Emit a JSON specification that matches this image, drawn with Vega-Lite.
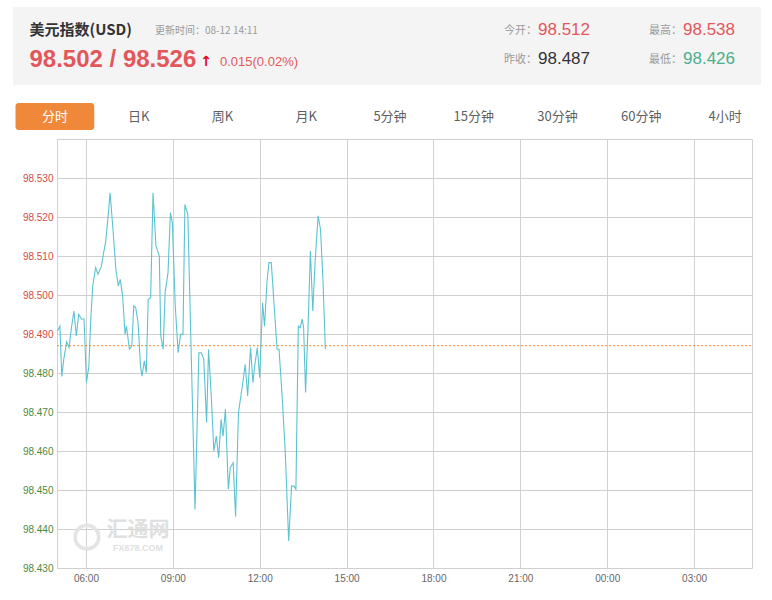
{
  "$schema": "https://vega.github.io/schema/vega-lite/v6.json",
  "padding": {"left": 13, "top": 7, "right": 0, "bottom": 0},
  "spacing": 0,
  "background": "#ffffff",
  "config": {"view": {"stroke": null}, "font": "Liberation Sans"},
  "vconcat": [
    {
      "width": 748,
      "height": 78,
      "view": {"fill": "#f4f4f4", "stroke": null},
      "data": {"values": [
        {"part": "name", "col": "main", "row": "r1", "text": "美元指数(USD)"},
        {"part": "time", "col": "main", "row": "r1", "text": "更新时间：08-12 14:11"},
        {"part": "price", "col": "main", "row": "r2", "text": "98.502 / 98.526", "tone": "up"},
        {"part": "arrow", "col": "main", "row": "r2", "text": "↑", "tone": "up"},
        {"part": "change", "col": "main", "row": "r2", "text": "0.015(0.02%)", "tone": "up"},
        {"part": "label", "col": "s1", "row": "r1", "text": "今开："},
        {"part": "value", "col": "s1", "row": "r1", "text": "98.512", "tone": "up"},
        {"part": "label", "col": "s1", "row": "r2", "text": "昨收："},
        {"part": "value", "col": "s1", "row": "r2", "text": "98.487", "tone": "flat"},
        {"part": "label", "col": "s2", "row": "r1", "text": "最高："},
        {"part": "value", "col": "s2", "row": "r1", "text": "98.538", "tone": "up"},
        {"part": "label", "col": "s2", "row": "r2", "text": "最低："},
        {"part": "value", "col": "s2", "row": "r2", "text": "98.426", "tone": "down"}
      ]},
      "encoding": {
        "x": {"field": "col", "type": "nominal", "scale": {"domain": ["main", "b1", "b2", "s1", "s2"], "range": [16.5, 741.5], "paddingInner": 0, "paddingOuter": 0}, "axis": null},
        "y": {"field": "row", "type": "nominal", "scale": {"domain": ["r1", "r2"], "range": [8, 67], "paddingInner": 0, "paddingOuter": 0}, "axis": null},
        "text": {"field": "text"}
      },
      "layer": [
        {
          "transform": [{"filter": "datum.part == 'name'"}],
          "mark": {"type": "text", "align": "left", "baseline": "middle", "dx": -72.5, "fontSize": 15, "fontWeight": "bold", "font": "Noto Sans CJK SC", "color": "#333333"}
        },
        {
          "transform": [{"filter": "datum.part == 'time'"}],
          "mark": {"type": "text", "align": "left", "baseline": "middle", "dx": 53, "dy": 1, "fontSize": 10, "font": "Noto Sans CJK SC", "color": "#9a9a9a"}
        },
        {
          "transform": [{"filter": "datum.part == 'price'"}],
          "mark": {"type": "text", "align": "left", "baseline": "middle", "dx": -72.5, "dy": 1, "fontSize": 24, "fontWeight": "bold", "font": "Liberation Sans", "color": "#e2575c"}
        },
        {
          "transform": [{"filter": "datum.part == 'arrow'"}],
          "mark": {"type": "text", "align": "center", "baseline": "middle", "dx": 104, "dy": 3, "fontSize": 14, "fontWeight": "bold", "font": "DejaVu Sans", "color": "#e60012"}
        },
        {
          "transform": [{"filter": "datum.part == 'change'"}],
          "mark": {"type": "text", "align": "left", "baseline": "middle", "dx": 118, "dy": 3, "fontSize": 13, "font": "Liberation Sans", "color": "#e2575c"}
        },
        {
          "transform": [{"filter": "datum.part == 'label'"}],
          "mark": {"type": "text", "align": "right", "baseline": "middle", "dy": 1, "fontSize": 11, "font": "Noto Sans CJK SC", "color": "#9a9a9a"}
        },
        {
          "transform": [{"filter": "datum.part == 'value'"}],
          "mark": {"type": "text", "align": "left", "baseline": "middle", "dx": 1, "fontSize": 17, "font": "Liberation Sans"},
          "encoding": {
            "color": {"field": "tone", "type": "nominal", "scale": {"domain": ["up", "flat", "down"], "range": ["#e2575c", "#333333", "#4cae8b"]}, "legend": null}
          }
        }
      ]
    },
    {
      "width": 754,
      "height": 49,
      "view": {"stroke": null},
      "data": {"values": [
        {"tab": "分时", "group": "period", "active": true},
        {"tab": "日K", "group": "period", "active": false},
        {"tab": "周K", "group": "period", "active": false},
        {"tab": "月K", "group": "period", "active": false},
        {"tab": "5分钟", "group": "period", "active": false},
        {"tab": "15分钟", "group": "period", "active": false},
        {"tab": "30分钟", "group": "period", "active": false},
        {"tab": "60分钟", "group": "period", "active": false},
        {"tab": "4小时", "group": "period", "active": false}
      ]},
      "encoding": {
        "x": {"field": "tab", "type": "nominal", "scale": {"domain": ["分时", "日K", "周K", "月K", "5分钟", "15分钟", "30分钟", "60分钟", "4小时"], "paddingInner": 0.06, "paddingOuter": 0.03}, "axis": null},
        "y": {"field": "group", "type": "nominal", "scale": {"domain": ["period"], "range": [18, 45], "paddingInner": 0, "paddingOuter": 0}, "axis": null}
      },
      "layer": [
        {
          "transform": [{"filter": "datum.active"}],
          "mark": {"type": "bar", "cornerRadius": 3, "color": "#f0883a"}
        },
        {
          "mark": {"type": "text", "baseline": "middle", "fontSize": 13, "font": "Noto Sans CJK SC"},
          "encoding": {
            "text": {"field": "tab"},
            "color": {"condition": {"test": "datum.active", "value": "#ffffff"}, "value": "#5f5f5f"}
          }
        }
      ]
    },
    {
      "width": 739,
      "height": 429,
      "view": {"stroke": null},
      "layer": [
        {
          "data": {"values": [{"brand": "汇通网", "site": "FX678.COM"}]},
          "mark": {"type": "point", "shape": "circle", "filled": false, "size": 560, "strokeWidth": 3.5, "color": "#e4e4e4", "opacity": 1},
          "encoding": {
            "x": {"datum": {"year": 2019, "month": 8, "date": 12, "hours": 6, "minutes": 2, "utc": true}, "type": "temporal"},
            "y": {"datum": 98.4379, "type": "quantitative"}
          }
        },
        {
          "data": {"values": [{"brand": "汇通网", "site": "FX678.COM"}]},
          "mark": {"type": "text", "fontSize": 21, "fontWeight": "bold", "font": "Noto Sans CJK SC", "color": "#e0e0e0", "baseline": "middle", "align": "center"},
          "encoding": {
            "x": {"datum": {"year": 2019, "month": 8, "date": 12, "hours": 7, "minutes": 48, "utc": true}, "type": "temporal"},
            "y": {"datum": 98.4397, "type": "quantitative"},
            "text": {"field": "brand"}
          }
        },
        {
          "data": {"values": [{"brand": "汇通网", "site": "FX678.COM"}]},
          "mark": {"type": "text", "fontSize": 9, "fontWeight": "bold", "font": "Liberation Sans", "color": "#e0e0e0", "baseline": "middle", "align": "center"},
          "encoding": {
            "x": {"datum": {"year": 2019, "month": 8, "date": 12, "hours": 7, "minutes": 48, "utc": true}, "type": "temporal"},
            "y": {"datum": 98.4351, "type": "quantitative"},
            "text": {"field": "site"}
          }
        },
        {
          "data": {"values": [{"prev_close": 98.487}]},
          "mark": {"type": "rule", "color": "#f0883a", "strokeDash": [2, 2], "strokeWidth": 1},
          "encoding": {
            "y": {"field": "prev_close", "type": "quantitative"},
            "x": {"datum": {"year": 2019, "month": 8, "date": 12, "hours": 5, "utc": true}, "type": "temporal"},
            "x2": {"datum": {"year": 2019, "month": 8, "date": 13, "hours": 5, "utc": true}}
          }
        },
        {
          "data": {"values": [
            {"time": "2019-08-12T05:01:00Z", "price": 98.4908},
            {"time": "2019-08-12T05:06:00Z", "price": 98.4920},
            {"time": "2019-08-12T05:10:00Z", "price": 98.4791},
            {"time": "2019-08-12T05:14:00Z", "price": 98.4835},
            {"time": "2019-08-12T05:20:00Z", "price": 98.4880},
            {"time": "2019-08-12T05:25:00Z", "price": 98.4865},
            {"time": "2019-08-12T05:29:00Z", "price": 98.4908},
            {"time": "2019-08-12T05:35:00Z", "price": 98.4959},
            {"time": "2019-08-12T05:40:00Z", "price": 98.4895},
            {"time": "2019-08-12T05:45:00Z", "price": 98.4950},
            {"time": "2019-08-12T05:51:00Z", "price": 98.4938},
            {"time": "2019-08-12T05:56:00Z", "price": 98.4939},
            {"time": "2019-08-12T06:01:00Z", "price": 98.4775},
            {"time": "2019-08-12T06:06:00Z", "price": 98.4818},
            {"time": "2019-08-12T06:10:00Z", "price": 98.4938},
            {"time": "2019-08-12T06:14:00Z", "price": 98.5023},
            {"time": "2019-08-12T06:20:00Z", "price": 98.5070},
            {"time": "2019-08-12T06:25:00Z", "price": 98.5053},
            {"time": "2019-08-12T06:32:00Z", "price": 98.5074},
            {"time": "2019-08-12T06:36:00Z", "price": 98.5104},
            {"time": "2019-08-12T06:41:00Z", "price": 98.5138},
            {"time": "2019-08-12T06:46:00Z", "price": 98.5203},
            {"time": "2019-08-12T06:50:00Z", "price": 98.5262},
            {"time": "2019-08-12T06:56:00Z", "price": 98.5168},
            {"time": "2019-08-12T07:02:00Z", "price": 98.5066},
            {"time": "2019-08-12T07:07:00Z", "price": 98.5023},
            {"time": "2019-08-12T07:11:00Z", "price": 98.5040},
            {"time": "2019-08-12T07:16:00Z", "price": 98.4997},
            {"time": "2019-08-12T07:21:00Z", "price": 98.4899},
            {"time": "2019-08-12T07:24:00Z", "price": 98.4920},
            {"time": "2019-08-12T07:30:00Z", "price": 98.4861},
            {"time": "2019-08-12T07:35:00Z", "price": 98.4869},
            {"time": "2019-08-12T07:39:00Z", "price": 98.4972},
            {"time": "2019-08-12T07:43:00Z", "price": 98.4968},
            {"time": "2019-08-12T07:48:00Z", "price": 98.4929},
            {"time": "2019-08-12T07:53:00Z", "price": 98.4818},
            {"time": "2019-08-12T07:56:00Z", "price": 98.4792},
            {"time": "2019-08-12T08:01:00Z", "price": 98.4831},
            {"time": "2019-08-12T08:05:00Z", "price": 98.4801},
            {"time": "2019-08-12T08:09:00Z", "price": 98.4989},
            {"time": "2019-08-12T08:14:00Z", "price": 98.4993},
            {"time": "2019-08-12T08:19:00Z", "price": 98.5262},
            {"time": "2019-08-12T08:25:00Z", "price": 98.5126},
            {"time": "2019-08-12T08:32:00Z", "price": 98.5100},
            {"time": "2019-08-12T08:35:00Z", "price": 98.4895},
            {"time": "2019-08-12T08:40:00Z", "price": 98.4861},
            {"time": "2019-08-12T08:44:00Z", "price": 98.5006},
            {"time": "2019-08-12T08:50:00Z", "price": 98.5057},
            {"time": "2019-08-12T08:55:00Z", "price": 98.5211},
            {"time": "2019-08-12T08:59:00Z", "price": 98.5185},
            {"time": "2019-08-12T09:05:00Z", "price": 98.4972},
            {"time": "2019-08-12T09:11:00Z", "price": 98.4852},
            {"time": "2019-08-12T09:16:00Z", "price": 98.4899},
            {"time": "2019-08-12T09:21:00Z", "price": 98.4899},
            {"time": "2019-08-12T09:25:00Z", "price": 98.5232},
            {"time": "2019-08-12T09:31:00Z", "price": 98.5207},
            {"time": "2019-08-12T09:46:00Z", "price": 98.4450},
            {"time": "2019-08-12T09:50:00Z", "price": 98.4647},
            {"time": "2019-08-12T09:54:00Z", "price": 98.4852},
            {"time": "2019-08-12T09:59:00Z", "price": 98.4852},
            {"time": "2019-08-12T10:04:00Z", "price": 98.4835},
            {"time": "2019-08-12T10:10:00Z", "price": 98.4673},
            {"time": "2019-08-12T10:14:00Z", "price": 98.4861},
            {"time": "2019-08-12T10:20:00Z", "price": 98.4732},
            {"time": "2019-08-12T10:25:00Z", "price": 98.4600},
            {"time": "2019-08-12T10:30:00Z", "price": 98.4638},
            {"time": "2019-08-12T10:35:00Z", "price": 98.4583},
            {"time": "2019-08-12T10:40:00Z", "price": 98.4681},
            {"time": "2019-08-12T10:44:00Z", "price": 98.4638},
            {"time": "2019-08-12T10:49:00Z", "price": 98.4707},
            {"time": "2019-08-12T10:55:00Z", "price": 98.4502},
            {"time": "2019-08-12T10:59:00Z", "price": 98.4558},
            {"time": "2019-08-12T11:05:00Z", "price": 98.4570},
            {"time": "2019-08-12T11:10:00Z", "price": 98.4432},
            {"time": "2019-08-12T11:16:00Z", "price": 98.4699},
            {"time": "2019-08-12T11:21:00Z", "price": 98.4741},
            {"time": "2019-08-12T11:25:00Z", "price": 98.4775},
            {"time": "2019-08-12T11:30:00Z", "price": 98.4822},
            {"time": "2019-08-12T11:35:00Z", "price": 98.4741},
            {"time": "2019-08-12T11:41:00Z", "price": 98.4865},
            {"time": "2019-08-12T11:46:00Z", "price": 98.4775},
            {"time": "2019-08-12T11:50:00Z", "price": 98.4822},
            {"time": "2019-08-12T11:55:00Z", "price": 98.4865},
            {"time": "2019-08-12T12:00:00Z", "price": 98.4788},
            {"time": "2019-08-12T12:06:00Z", "price": 98.4980},
            {"time": "2019-08-12T12:10:00Z", "price": 98.4920},
            {"time": "2019-08-12T12:15:00Z", "price": 98.5032},
            {"time": "2019-08-12T12:19:00Z", "price": 98.5083},
            {"time": "2019-08-12T12:24:00Z", "price": 98.5083},
            {"time": "2019-08-12T12:30:00Z", "price": 98.4972},
            {"time": "2019-08-12T12:36:00Z", "price": 98.4861},
            {"time": "2019-08-12T12:40:00Z", "price": 98.4861},
            {"time": "2019-08-12T12:46:00Z", "price": 98.4750},
            {"time": "2019-08-12T12:53:00Z", "price": 98.4596},
            {"time": "2019-08-12T13:00:00Z", "price": 98.4369},
            {"time": "2019-08-12T13:06:00Z", "price": 98.4510},
            {"time": "2019-08-12T13:11:00Z", "price": 98.4510},
            {"time": "2019-08-12T13:15:00Z", "price": 98.4502},
            {"time": "2019-08-12T13:20:00Z", "price": 98.4920},
            {"time": "2019-08-12T13:24:00Z", "price": 98.4916},
            {"time": "2019-08-12T13:28:00Z", "price": 98.4938},
            {"time": "2019-08-12T13:31:00Z", "price": 98.4916},
            {"time": "2019-08-12T13:35:00Z", "price": 98.4750},
            {"time": "2019-08-12T13:40:00Z", "price": 98.4912},
            {"time": "2019-08-12T13:45:00Z", "price": 98.5113},
            {"time": "2019-08-12T13:50:00Z", "price": 98.4959},
            {"time": "2019-08-12T13:55:00Z", "price": 98.5091},
            {"time": "2019-08-12T14:01:00Z", "price": 98.5203},
            {"time": "2019-08-12T14:06:00Z", "price": 98.5168},
            {"time": "2019-08-12T14:11:00Z", "price": 98.5040},
            {"time": "2019-08-12T14:16:00Z", "price": 98.4861}
          ]},
          "mark": {"type": "line", "color": "#5bc3d0", "strokeWidth": 1.1},
          "encoding": {
            "x": {
              "field": "time", "type": "temporal",
              "scale": {"type": "utc", "range": [44, 739], "domain": [{"year": 2019, "month": 8, "date": 12, "hours": 5, "utc": true}, {"year": 2019, "month": 8, "date": 13, "hours": 5, "utc": true}]},
              "axis": {"format": "%H:%M", "tickCount": 30, "values": [
                {"year": 2019, "month": 8, "date": 12, "hours": 5, "utc": true},
                {"year": 2019, "month": 8, "date": 12, "hours": 6, "utc": true},
                {"year": 2019, "month": 8, "date": 12, "hours": 9, "utc": true},
                {"year": 2019, "month": 8, "date": 12, "hours": 12, "utc": true},
                {"year": 2019, "month": 8, "date": 12, "hours": 15, "utc": true},
                {"year": 2019, "month": 8, "date": 12, "hours": 18, "utc": true},
                {"year": 2019, "month": 8, "date": 12, "hours": 21, "utc": true},
                {"year": 2019, "month": 8, "date": 13, "hours": 0, "utc": true},
                {"year": 2019, "month": 8, "date": 13, "hours": 3, "utc": true},
                {"year": 2019, "month": 8, "date": 13, "hours": 5, "utc": true}
              ], "labelExpr": "datum.label == '05:00' ? '' : datum.label", "labelFlush": false, "labelOverlap": false, "grid": true, "gridColor": "#d2d2d2", "ticks": false, "domain": false, "labelFontSize": 10, "labelColor": "#666666", "labelPadding": 5, "title": null}
            },
            "y": {
              "field": "price", "type": "quantitative",
              "scale": {"domain": [98.43, 98.54], "zero": false, "nice": false},
              "axis": {"tickCount": 30, "values": [98.43, 98.44, 98.45, 98.46, 98.47, 98.48, 98.49, 98.5, 98.51, 98.52, 98.53, 98.54], "format": ".3f", "labelExpr": "datum.value > 98.535 ? '' : datum.label", "offset": -44, "grid": true, "gridColor": "#cfcfcf", "ticks": false, "domain": false, "labelFontSize": 10, "labelPadding": 4, "labelFlush": false, "labelOverlap": false, "labelColor": {"expr": "datum.value > 98.487 ? '#d24b46' : '#4b8a3d'"}, "title": null}
            }
          }
        }
      ]
    }
  ]
}
